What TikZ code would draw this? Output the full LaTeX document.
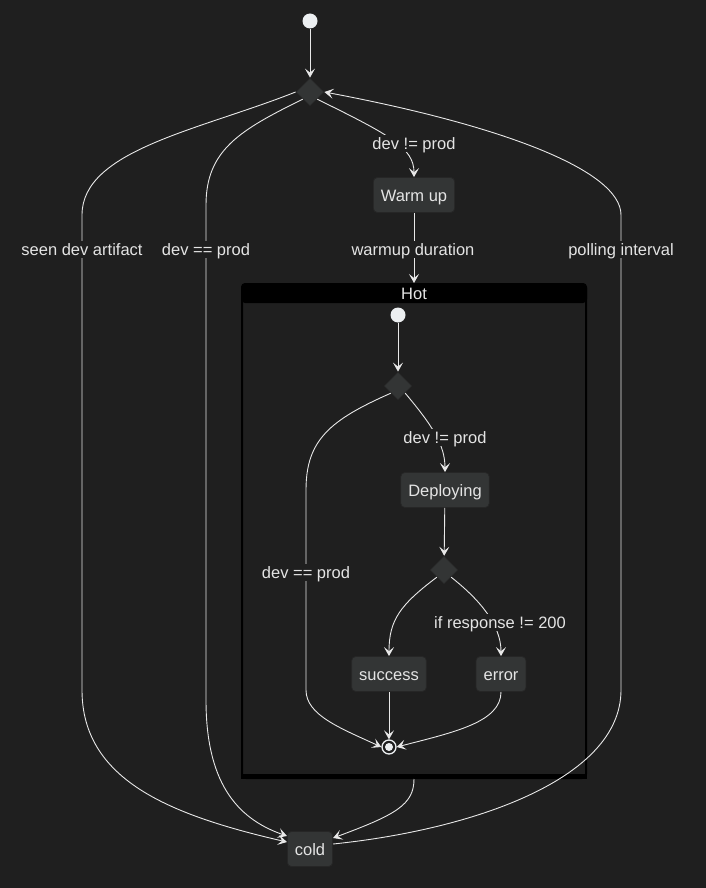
\documentclass[tikz,border=0pt]{standalone}
\usepackage{fontspec}
\setmainfont{Liberation Sans}
\usetikzlibrary{shapes.geometric,arrows.meta}
\definecolor{bg}{HTML}{1F1F1F}
\definecolor{nodefill}{HTML}{333535}
\definecolor{ink}{HTML}{E4E4E4}
\definecolor{wire}{HTML}{E8E8E8}
\definecolor{dot}{HTML}{ECEFF1}

\begin{document}
\begin{tikzpicture}[x=1pt, y=-1pt,
    every node/.style={font=\fontsize{16.5}{19}\selectfont, text=ink},
    state/.style={draw=black!85, fill=nodefill, rounded corners=4pt, minimum height=35pt, inner xsep=7.5pt,
        text height=13.5pt, text depth=0pt, line width=0.8pt},
    choice/.style={diamond, draw=black!85, fill=nodefill, minimum width=28pt, minimum height=28pt, inner sep=0pt, line width=0.8pt},
    init/.style={circle, fill=dot, minimum size=15pt, inner sep=0pt},
    final/.style={circle, draw=dot, line width=1.3pt, fill=bg, minimum size=14pt, inner sep=0pt,
        path picture={\fill[dot] (path picture bounding box.center) circle (4);}},
    composite/.style={draw=black, line width=2pt, fill=bg, rounded corners=4pt, minimum width=344pt, minimum height=494pt},
    lbl/.style={fill=bg, inner sep=1.5pt, text height=13pt, text depth=1pt},
    edge/.style={draw=wire, line width=0.9pt, -{Stealth[length=9pt, width=10pt, inset=4pt]}}
  ]
    \fill[bg] (0,0) rectangle (706,888);
    \useasboundingbox (0,0) rectangle (706,888);

    \node[composite] (hot) at (414,531) {};
    \fill[black, rounded corners=4pt] ([yshift=-20pt]hot.north west) rectangle (hot.north east);
    \fill[black] ([yshift=5pt]hot.south west) rectangle (hot.south east);
    \node[text height=13pt, text depth=0pt] (hottitle) at (414,293) {Hot};

    \node[init] (start) at (310,21) {};
    \node[choice] (d1) at (310,92) {};
    \node[state] (warm) at (414,195) {Warm up};
    \node[init] (hstart) at (398,315) {};
    \node[choice] (d2) at (398,386) {};
    \node[state] (deploy) at (445,490) {Deploying};
    \node[choice] (d3) at (444,570) {};
    \node[state] (ok) at (389,674) {success};
    \node[state] (err) at (501,674) {error};
    \node[final] (stop) at (389,747) {};
    \node[state] (cold) at (310,849) {cold};

    \draw[edge] (start) -- (d1);
    \draw[edge] (d1.south east) .. controls (390,135) and (414,148) .. (warm.north) node[lbl] at (414,143) {dev != prod};
    \draw[edge] (warm) -- (hot.north) node[lbl] at (413,249) {warmup duration};
    \draw[edge] (hstart) -- (d2);
    \draw[edge] (d2.south east) .. controls (432,425) and (445,445) .. (deploy.north) node[lbl] at (445,437) {dev != prod};
    \draw[edge] (deploy) -- (d3);
    \draw[edge] (d3.south west) .. controls (400,605) and (389,620) .. (ok.north);
    \draw[edge] (d3.south east) .. controls (480,600) and (501,625) .. (err.north) node[lbl] at (500,622) {if response != 200};
    \draw[edge] (ok) -- (stop);
    \draw[edge] (err.south) .. controls (501,722) and (455,732) .. (stop.east);
    \draw[edge] (d2.south west) .. controls (330,420) and (306,440) .. (306,490) -- (306,690)
        .. controls (306,715) and (340,728) .. (stop.west) node[lbl] at (306,572) {dev == prod};

    \draw[edge] (d1.west) .. controls (200,130) and (82,150) .. (82,215) -- (82,690)
        .. controls (82,780) and (170,815) .. ([yshift=7pt]cold.west) node[lbl] at (82,249) {seen dev artifact};
    \draw[edge] (d1.south west) .. controls (240,130) and (206,150) .. (206,205) -- (206,700)
        .. controls (206,780) and (235,818) .. ([yshift=13pt]cold.west) node[lbl] at (206,249) {dev == prod};
    \draw[edge] (hot.south) .. controls (414,805) and (395,815) .. ([yshift=11pt]cold.east);
    \draw[edge] ([yshift=5pt]cold.east) .. controls (470,830) and (621,780) .. (621,690) -- (621,215)
        .. controls (621,170) and (500,125) .. (d1.east) node[lbl] at (621,249) {polling interval};
\end{tikzpicture}
\end{document}
